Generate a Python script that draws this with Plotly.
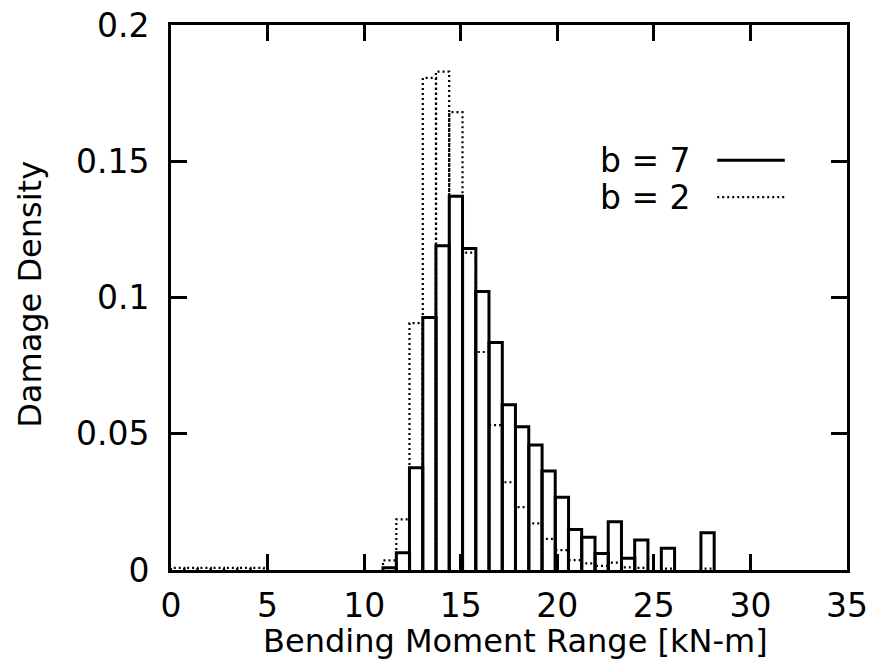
import plotly.graph_objects as go

# ---- data ----
bin_width = 0.686  # kN-m
bin_centers = [0.34, 1.03, 1.72, 2.40, 3.09, 3.77, 4.46,
               11.32, 12.01, 12.69, 13.38, 14.06, 14.75, 15.44, 16.12,
               16.81, 17.49, 18.18, 18.87, 19.55, 20.24, 20.92, 21.61,
               22.30, 22.98, 23.67, 24.35, 25.04, 25.73, 26.41, 27.10, 27.78]
density_b7 = [0, 0, 0, 0, 0, 0, 0,
              0.0008, 0.0063, 0.0375, 0.0927, 0.1190, 0.1372, 0.1180, 0.1022,
              0.0835, 0.0606, 0.0526, 0.0459, 0.0363, 0.0267, 0.0149, 0.0120,
              0.0061, 0.0177, 0.0043, 0.0110, 0.0, 0.0080, 0.0, 0.0, 0.0137]
density_b2 = [0.0008, 0.0008, 0.0008, 0.0008, 0.0008, 0.0008, 0.0008,
              0.0035, 0.0186, 0.0906, 0.1806, 0.1829, 0.1680, 0.1165, 0.0800,
              0.0532, 0.0322, 0.0231, 0.0171, 0.0114, 0.0073, 0.0036, 0.0024,
              0.0015, 0.0027, 0.0010, 0.0008, 0.0, 0.0005, 0.0, 0.0, 0.0005]
series_labels = ["b = 7", "b = 2"]
x_ticks = [0, 5, 10, 15, 20, 25, 30, 35]
y_ticks = [0, 0.05, 0.1, 0.15, 0.2]

FONT = "DejaVu Sans"
SOLID = dict(color="black", width=3)
DOTTED = dict(color="black", width=2.2, dash="2px,3px")


def box_outline(centers, heights, width):
    xs, ys = [], []
    for c, h in zip(centers, heights):
        if h <= 0:
            continue
        l, r = c - width / 2, c + width / 2
        xs += [l, l, r, r, None]
        ys += [0, h, h, 0, None]
    return xs, ys


fig = go.Figure()
x2, y2 = box_outline(bin_centers, density_b2, bin_width)
fig.add_trace(go.Scatter(x=x2, y=y2, mode="lines", name=series_labels[1],
                         line=DOTTED, showlegend=False, hoverinfo="skip"))
x7, y7 = box_outline(bin_centers, density_b7, bin_width)
fig.add_trace(go.Scatter(x=x7, y=y7, mode="lines", name=series_labels[0],
                         line=SOLID, showlegend=False, hoverinfo="skip"))

axis_common = dict(showgrid=False, zeroline=False, showline=True,
                   linecolor="black", linewidth=3, mirror="ticks",
                   ticks="inside", ticklen=16, tickwidth=2.5, tickcolor="black",
                   automargin=False,
                   tickfont=dict(family=FONT, size=33, color="black"))

fig.update_xaxes(range=[0, 35], tickvals=x_ticks, ticklabelstandoff=4,
                 **axis_common)
fig.update_yaxes(range=[0, 0.2], tickvals=y_ticks,
                 ticktext=[f"{v:g}" for v in y_ticks], ticklabelstandoff=12,
                 **axis_common)

# axis titles
fig.add_annotation(text="Bending Moment Range [kN-m]", xref="paper", yref="paper",
                   x=0.51, y=0, xanchor="center", yanchor="top", yshift=-50,
                   showarrow=False, font=dict(family=FONT, size=32, color="black"))
fig.add_annotation(text="Damage Density", xref="paper", yref="paper",
                   x=0, y=0.505, xanchor="center", yanchor="middle", xshift=-141,
                   textangle=-90, showarrow=False,
                   font=dict(family=FONT, size=32, color="black"))

# legend (text followed by line sample, gnuplot style)
legend_rows = [(0.752, SOLID), (0.684, DOTTED)]
for label, (yy, ln) in zip(series_labels, legend_rows):
    fig.add_annotation(text=label, xref="paper", yref="paper", x=0.772, y=yy,
                       xanchor="right", yanchor="middle", showarrow=False,
                       font=dict(family=FONT, size=33, color="black"))
    fig.add_shape(type="line", xref="paper", yref="paper",
                  x0=0.808, x1=0.908, y0=yy, y1=yy, line=ln)

fig.update_layout(width=873, height=665, margin=dict(l=171, r=26, t=25, b=95),
                  paper_bgcolor="white", plot_bgcolor="white", showlegend=False)

fig.write_html("out.html")
